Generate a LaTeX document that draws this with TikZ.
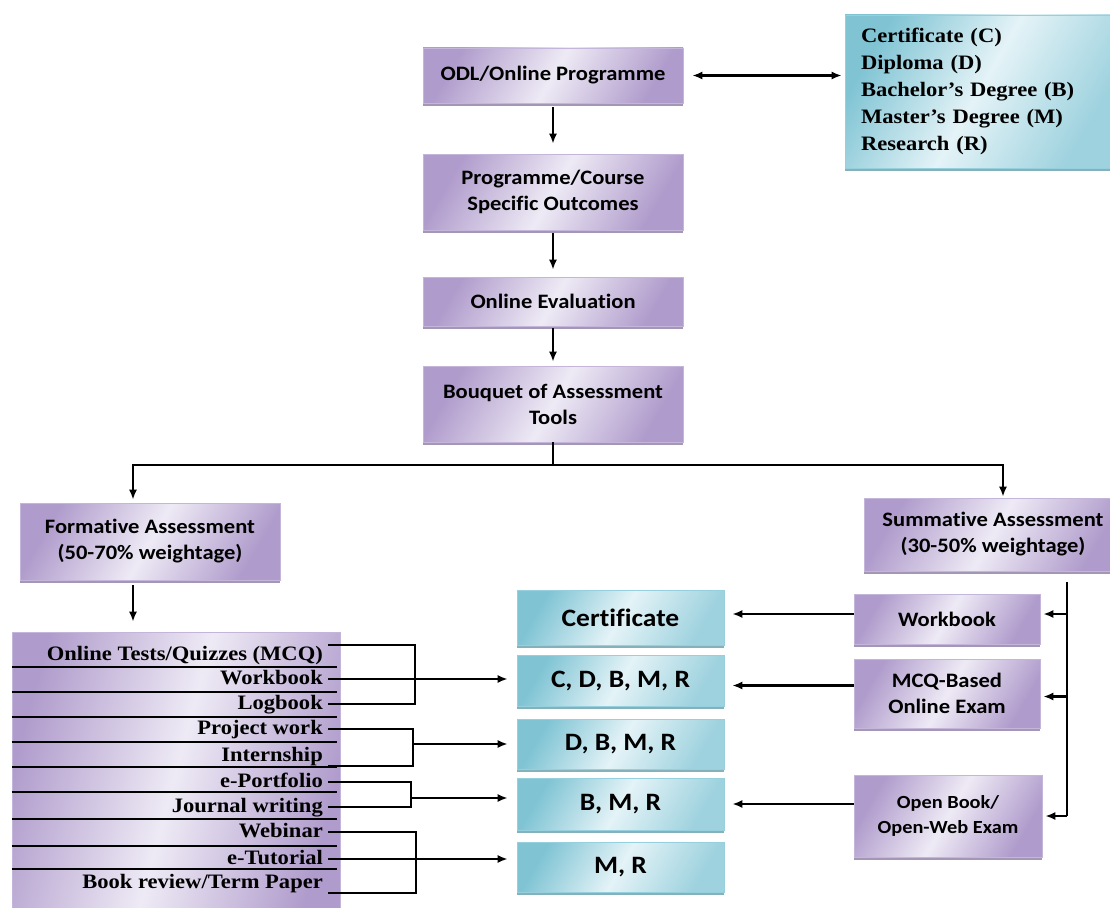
\documentclass[tikz,border=0pt]{standalone}
\usepackage{fontspec}
\setmainfont{Liberation Serif}[FakeStretch=1.1]
\newfontfamily\calib{Carlito}[FakeStretch=1.1, Ligatures=NoCommon]
\usetikzlibrary{positioning, arrows.meta, shadows}

\definecolor{lavD}{RGB}{176,156,204}
\definecolor{lavL}{RGB}{238,234,245}
\definecolor{lavE}{RGB}{196,182,218}
\definecolor{aquD}{RGB}{128,196,212}
\definecolor{aquL}{RGB}{228,243,247}
\definecolor{aquE}{RGB}{150,208,222}

\begin{document}
\begin{tikzpicture}[x=1pt, y=-1pt,
    pbox/.style={draw=lavE, line width=0.6pt, left color=lavD, right color=lavD, middle color=lavL, shading angle=60,
        drop shadow={shadow xshift=0pt, shadow yshift=-2.5pt, opacity=0.8, fill=lavD!80!black},
        inner sep=0pt, align=center, font=\calib\bfseries\fontsize{20.5}{26}\selectfont},
    cbox/.style={draw=aquE, line width=0.6pt, left color=aquD, right color=aquD!70!aquL, middle color=aquL, shading angle=60,
        drop shadow={shadow xshift=0pt, shadow yshift=-2.5pt, opacity=0.8, fill=aquD!80!black},
        inner sep=0pt, minimum width=207pt, align=center, font=\calib\bfseries\fontsize{25}{28}\selectfont},
    item/.style={anchor=east, inner xsep=5pt, inner ysep=0pt, minimum height=20pt, text height=14pt, text depth=4pt,
        font=\bfseries\fontsize{20.5}{22}\selectfont},
    link/.style={line width=2.3pt},
    arr/.style={line width=2.3pt, -{Latex[length=10pt, width=8pt]}},
    darr/.style={line width=2.3pt, {Latex[length=10pt, width=8pt]}-{Latex[length=10pt, width=8pt]}}]
    \useasboundingbox (0,0) rectangle (1110,907);

    % Define the main column
    \node[pbox, minimum width=260pt, minimum height=55pt] (odl) at (553,75.5) {ODL/Online Programme};
    \node[pbox, minimum width=260pt, minimum height=76pt] (outc) at (553,192) {Programme/Course\\Specific Outcomes};
    \node[pbox, minimum width=260pt, minimum height=49pt] (eval) at (553,301.5) {Online Evaluation};
    \node[pbox, minimum width=260pt, minimum height=76pt] (tools) at (553,404) {Bouquet of Assessment\\Tools};

    % Define the programme levels
    \node[cbox, minimum height=153pt, text width=235pt, inner xsep=16pt, align=left,
        font=\bfseries\fontsize{20.5}{27}\selectfont] (levels) at (978.5,91.5)
        {Certificate (C)\\Diploma (D)\\Bachelor’s Degree (B)\\Master’s Degree (M)\\Research (R)};

    % Define the two kinds of assessment
    \node[pbox, minimum width=260pt, minimum height=77pt] (form) at (150,541.5) {Formative Assessment\\(50-70\% weightage)};
    \node[pbox, minimum width=258pt, minimum height=73pt] (summ) at (993,534.5) {Summative Assessment\\(30-50\% weightage)};

    % Define the summative tools
    \node[pbox, minimum width=186pt, minimum height=50pt] (wbk) at (947,619) {Workbook};
    \node[pbox, minimum width=186pt, minimum height=69pt] (mcq) at (947,693.5) {MCQ-Based\\Online Exam};
    \node[pbox, minimum width=188pt, minimum height=82pt, font=\calib\bfseries\fontsize{18.5}{25}\selectfont] (obook) at (948,816) {Open Book/\\Open-Web Exam};

    % Define the awards
    \node[cbox, minimum height=55pt] (cert) at (620.5,617.5) {Certificate};
    \node[cbox, minimum height=51pt] (cdbmr) at (620.5,680.5) {C, D, B, M, R};
    \node[cbox, minimum height=50pt] (dbmr) at (620.5,744) {D, B, M, R};
    \node[cbox, minimum height=52pt] (bmr) at (620.5,804) {B, M, R};
    \node[cbox, minimum height=50pt] (mr) at (620.5,867) {M, R};

    % Define the formative tools
    \node[pbox, minimum width=328pt, minimum height=278pt, shading angle=75] (list) at (176,771) {};
    \foreach \y in {667,692,717,742,767,792,819,846,869}
        \draw[line width=1.8pt] (list.west |- 0,\y) -- ++(325,0);
    \node[item] (t1) at (328,655) {Online Tests/Quizzes (MCQ)};
    \node[item] (t2) at (328,679) {Workbook};
    \node[item] (t3) at (328,704) {Logbook};
    \node[item] (t4) at (328,729) {Project work};
    \node[item] (t5) at (328,756) {Internship};
    \node[item] (t6) at (328,782) {e-Portfolio};
    \node[item] (t7) at (328,807) {Journal writing};
    \node[item] (t8) at (328,832) {Webinar};
    \node[item] (t9) at (328,859) {e-Tutorial};
    \node[item] (t10) at (328,883) {Book review/Term Paper};

    % Draw the main column
    \draw[darr, shorten <=9pt, shorten >=3pt] (odl.east) -- (odl.east -| levels.west);
    \draw[arr, shorten <=4pt, shorten >=10pt] (odl) -- (outc);
    \draw[arr, shorten <=3pt, shorten >=7pt] (outc) -- (eval);
    \draw[arr, shorten <=2pt, shorten >=4pt] (eval) -- (tools);

    % Draw the split
    \coordinate (split) at (553,465);
    \draw[link] (tools.south) -- (split);
    \draw[arr, shorten >=3pt] (split) -| ([xshift=-17pt]form.north);
    \draw[arr, shorten >=1pt] (split) -| ([xshift=10pt]summ.north);
    \draw[arr, shorten <=5pt, shorten >=10pt] ([xshift=-17pt]form.south) -- ([xshift=-17pt]form.south |- list.north);

    % Draw the summative side
    \coordinate (sbus) at (1067,582);
    \draw[link] (sbus) -- (sbus |- obook.east);
    \draw[arr, shorten >=3pt] ([yshift=5pt]wbk.east -| sbus) -- ([yshift=5pt]wbk.east);
    \draw[arr, shorten >=3pt] ([yshift=-3pt]mcq.east -| sbus) -- ([yshift=-3pt]mcq.east);
    \draw[arr, shorten >=3pt] (obook.east -| sbus) -- (obook.east);
    \draw[arr, shorten >=8pt] ([yshift=5pt]wbk.west) -- ([yshift=5pt]wbk.west -| cert.east);
    \draw[arr, shorten >=8pt] ([yshift=-5pt]cdbmr.east -| mcq.west) -- ([yshift=-5pt]cdbmr.east);
    \draw[arr, shorten >=8pt] (bmr.east -| obook.west) -- (bmr.east);

    % Draw the formative brackets
    \draw[link] (t1.north east) -- ++(87,0) |- (t3.east);
    \draw[arr, shorten >=9pt] (t2.east) -- (t2.east -| cdbmr.west);
    \draw[link] (t4.east) -- ++(85,0) coordinate (j2) |- (t5.south east);
    \draw[arr, shorten >=9pt] (j2 |- dbmr.west) -- (dbmr.west);
    \draw[link] (t6.east) -- ++(83,0) coordinate (j3) |- (t7.east);
    \draw[arr, shorten >=9pt] ([yshift=6pt]bmr.west -| j3) -- ([yshift=6pt]bmr.west);
    \draw[link] (t8.east) -- ++(88,0) |- (t10.south east);
    \draw[arr, shorten >=9pt] (t9.east) -- (t9.east -| mr.west);
\end{tikzpicture}
\end{document}
